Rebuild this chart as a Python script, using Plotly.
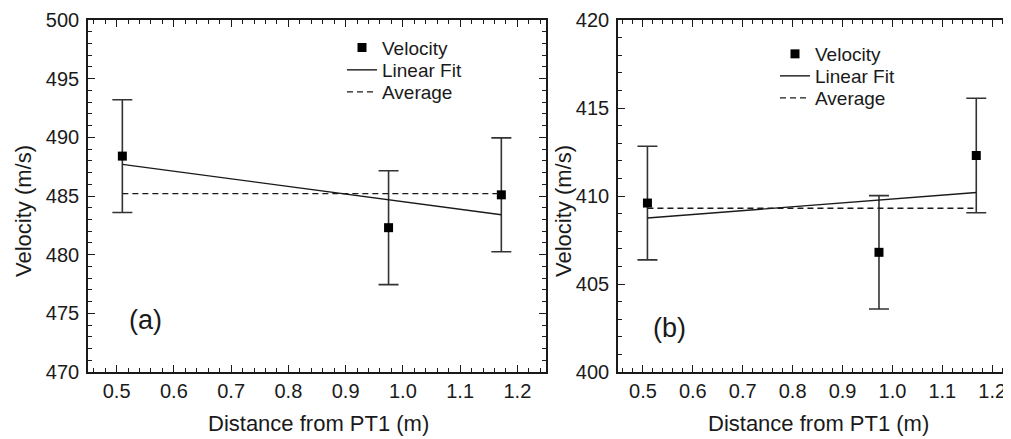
import plotly.graph_objects as go

# ---------------- data ----------------
dist_a = [0.51, 0.975, 1.172]
vel_a = [488.4, 482.3, 485.1]
err_a = [4.8, 4.85, 4.85]
fit_x_a = [0.51, 1.172]
fit_y_a = [487.7, 483.4]
avg_x_a = [0.51, 1.172]
avg_y_a = [485.2, 485.2]

dist_b = [0.509, 0.973, 1.168]
vel_b = [409.6, 406.8, 412.3]
err_b = [3.23, 3.22, 3.25]
fit_x_b = [0.509, 1.168]
fit_y_b = [408.75, 410.2]
avg_x_b = [0.509, 1.168]
avg_y_b = [409.3, 409.3]

x_tick_vals = [0.5, 0.6, 0.7, 0.8, 0.9, 1.0, 1.1, 1.2]
x_tick_text = ["0.5", "0.6", "0.7", "0.8", "0.9", "1.0", "1.1", "1.2"]
y_tick_vals_a = [470, 475, 480, 485, 490, 495, 500]
y_tick_vals_b = [400, 405, 410, 415, 420]
series_names = ["Velocity", "Linear Fit", "Average"]

FONT = "Liberation Sans, Arial, sans-serif"
INK = "#1a1a1a"
BAR = "#333333"

# page body has an 8px margin: figure coords = screen coords - 8
OFF = 8
W, H = 1011 - OFF, 439 - OFF
PLOT_TOP, PLOT_BOT = 20, 372  # screen px
T, B = PLOT_TOP - OFF, H - (PLOT_BOT - OFF)

def fx(sx):
    return (sx - OFF) / W

def py(sy):
    return (PLOT_BOT - sy) / (PLOT_BOT - PLOT_TOP)

fig = go.Figure()

def add_panel(xs, ys, es, lx, ly, ax, ay, xa, ya, legs):
    fig.add_trace(go.Scatter(
        x=xs, y=ys, mode="markers", name=series_names[0],
        marker=dict(symbol="square", size=9, color="black"),
        error_y=dict(type="data", array=es, visible=True, color=BAR, thickness=1.6, width=10),
        xaxis=xa, yaxis=ya, legend=legs[0]))
    fig.add_trace(go.Scatter(
        x=lx, y=ly, mode="lines", name=series_names[1],
        line=dict(color=INK, width=1.4),
        xaxis=xa, yaxis=ya, legend=legs[1]))
    fig.add_trace(go.Scatter(
        x=ax, y=ay, mode="lines", name=series_names[2],
        line=dict(color=INK, width=1.4, dash="6px,4px"),
        xaxis=xa, yaxis=ya, legend=legs[2]))

add_panel(dist_a, vel_a, err_a, fit_x_a, fit_y_a, avg_x_a, avg_y_a, "x", "y",
          ["legend", "legend2", "legend3"])
add_panel(dist_b, vel_b, err_b, fit_x_b, fit_y_b, avg_x_b, avg_y_b, "x2", "y2",
          ["legend4", "legend5", "legend6"])

axis_common = dict(
    showline=True, linecolor=INK, linewidth=1.6, mirror="ticks",
    ticks="inside", ticklen=7, tickwidth=1.4, tickcolor=INK,
    showgrid=False, zeroline=False, automargin=False,
    tickfont=dict(family=FONT, size=20, color=INK),
)

def leg(sx, sy):
    return dict(x=fx(sx), y=py(sy), xanchor="left", yanchor="middle",
                bgcolor="rgba(0,0,0,0)", font=dict(family=FONT, size=19, color=INK),
                itemwidth=30, borderwidth=0)

fig.update_layout(
    width=W, height=H,
    margin=dict(l=0, r=0, t=T, b=B),
    paper_bgcolor="white", plot_bgcolor="white",
    font=dict(family=FONT, color=INK),
    xaxis=dict(domain=[fx(88), fx(546)], range=[0.45, 1.25],
               tickvals=x_tick_vals, ticktext=x_tick_text, anchor="y",
               minor=dict(dtick=0.02, tick0=0.5, ticks="inside", ticklen=4, tickwidth=1.2, tickcolor=INK),
               ticklabelstandoff=0, **axis_common),
    yaxis=dict(domain=[0, 1], range=[470, 500], tickvals=y_tick_vals_a, anchor="x",
               minor=dict(dtick=1, tick0=470, ticks="inside", ticklen=4, tickwidth=1.2, tickcolor=INK),
               ticklabelstandoff=3, **axis_common),
    xaxis2=dict(domain=[fx(618), 1.0], range=[0.45, 0.45 + (1011 - 618) / 499.0],
                tickvals=x_tick_vals, ticktext=x_tick_text, anchor="y2",
                minor=dict(dtick=0.02, tick0=0.5, ticks="inside", ticklen=4, tickwidth=1.2, tickcolor=INK),
                ticklabelstandoff=0, **axis_common),
    yaxis2=dict(domain=[0, 1], range=[400, 420], tickvals=y_tick_vals_b, anchor="x2",
                minor=dict(dtick=1, tick0=400, ticks="inside", ticklen=4, tickwidth=1.2, tickcolor=INK),
                ticklabelstandoff=3, **axis_common),
    legend=leg(342, 47.7),
    legend2=leg(342, 70),
    legend3=leg(342, 92),
    legend4=leg(775, 54),
    legend5=leg(775, 76),
    legend6=leg(775, 98),
    showlegend=True,
)

ann = []
ann.append(dict(text="Velocity (m/s)", x=fx(23), y=py(211), textangle=-90))
ann.append(dict(text="Velocity (m/s)", x=fx(563), y=py(211), textangle=-90))
ann.append(dict(text="Distance from PT1 (m)", x=fx(318), y=py(423)))
ann.append(dict(text="Distance from PT1 (m)", x=fx(818), y=py(423)))
for a in ann:
    a.update(xref="paper", yref="paper", showarrow=False, xanchor="center", yanchor="middle",
             font=dict(family=FONT, size=22, color=INK))
ann.append(dict(text="(a)", x=fx(145), y=py(320), xref="paper", yref="paper", showarrow=False,
                xanchor="center", yanchor="middle", font=dict(family=FONT, size=27, color=INK)))
ann.append(dict(text="(b)", x=fx(669.5), y=py(328), xref="paper", yref="paper", showarrow=False,
                xanchor="center", yanchor="middle", font=dict(family=FONT, size=27, color=INK)))
fig.update_layout(annotations=ann)

fig.write_html("out.html")
